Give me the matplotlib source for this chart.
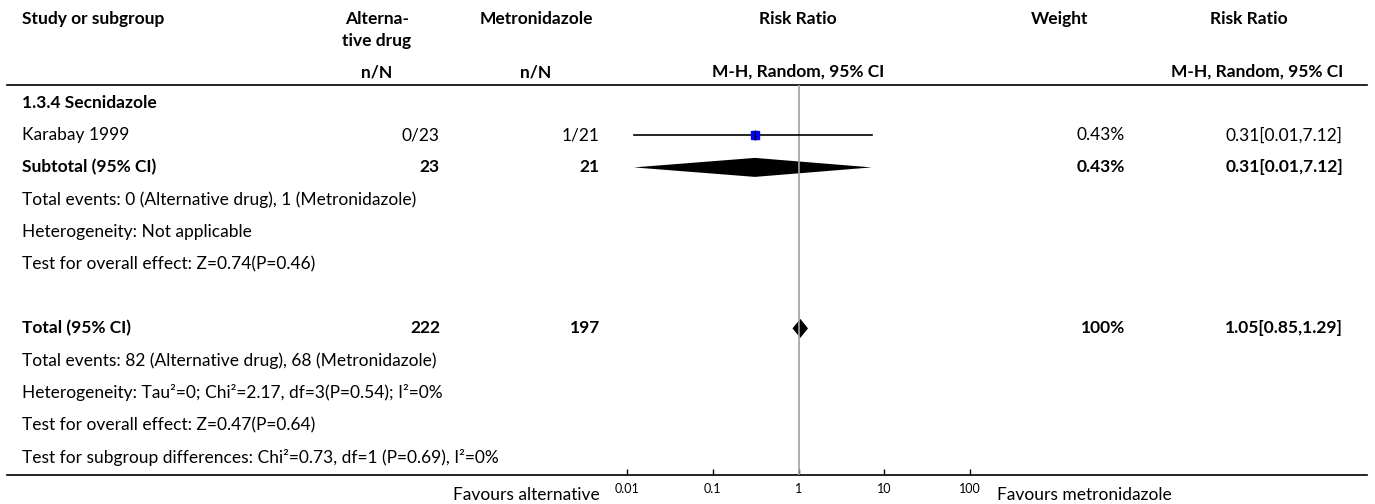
import numpy as np
import matplotlib.pyplot as plt
from matplotlib.patches import Polygon

plt.rcParams['font.family'] = ['Lato', 'DejaVu Sans']

# Study level data
studies = ['Karabay 1999']
alt_events = [0]
alt_total = [23]
met_events = [1]
met_total = [21]
study_weight = ['0.43%']
study_rr = [0.31]
study_lo = [0.012]
study_hi = [7.12]

# Subtotal 1.3.4 Secnidazole
sub_label = '1.3.4 Secnidazole'
sub_n = [23, 21]
sub_weight = '0.43%'
sub_rr, sub_lo, sub_hi = 0.31, 0.012, 7.12
sub_notes = ['Total events: 0 (Alternative drug), 1 (Metronidazole)',
             'Heterogeneity: Not applicable',
             'Test for overall effect: Z=0.74(P=0.46)']

# Overall total
tot_n = [222, 197]
tot_weight = '100%'
tot_rr, tot_lo, tot_hi = 1.05, 0.85, 1.29
tot_notes = ['Total events: 82 (Alternative drug), 68 (Metronidazole)',
             'Heterogeneity: Tau\u00b2=0; Chi\u00b2=2.17, df=3(P=0.54); I\u00b2=0%',
             'Test for overall effect: Z=0.47(P=0.64)',
             'Test for subgroup differences: Chi\u00b2=0.73, df=1 (P=0.69), I\u00b2=0%']

ticks = [0.01, 0.1, 1, 10, 100]
tick_labels = ['0.01', '0.1', '1', '10', '100']

W, H = 1375, 504
fig = plt.figure(figsize=(W / 100, H / 100), dpi=100)
ax = fig.add_axes([0, 0, 1, 1])
ax.set_xlim(0, W)
ax.set_ylim(H, 0)
ax.axis('off')

fs = 12.5
x_left = 22
x_alt = 440
x_met = 600
x_wt = 1125
x_rr = 1343

def fmt_ci(r, l, h):
    return f'{r:.2f}[{l:.2f},{h:.2f}]'

# header
hb = dict(fontsize=fs, fontweight='bold', va='center')
ax.text(x_left, 19, 'Study or subgroup', ha='left', **hb)
ax.text(377, 19, 'Alterna-', ha='center', **hb)
ax.text(377, 41, 'tive drug', ha='center', **hb)
ax.text(536, 19, 'Metronidazole', ha='center', **hb)
ax.text(377, 72, 'n/N', ha='center', **hb)
ax.text(536, 72, 'n/N', ha='center', **hb)
ax.text(798, 19, 'Risk Ratio', ha='center', **hb)
ax.text(798, 72, 'M-H, Random, 95% CI', ha='center', **hb)
ax.text(1060, 19, 'Weight', ha='center', **hb)
ax.text(1249, 19, 'Risk Ratio', ha='center', **hb)
ax.text(x_rr, 72, 'M-H, Random, 95% CI', ha='right', **hb)
ax.plot([7, 1367], [85, 85], color='black', lw=1.2)

# rows
step = 32.2
y0 = 103
rows_y = [y0 + step * i for i in range(12)]
nb = dict(fontsize=fs, va='center')
ax.text(x_left, rows_y[0], sub_label, ha='left', **hb)
for i, s in enumerate(studies):
    y = rows_y[1 + i]
    ax.text(x_left, y, s, ha='left', **nb)
    ax.text(x_alt, y, f'{alt_events[i]}/{alt_total[i]}', ha='right', **nb)
    ax.text(x_met, y, f'{met_events[i]}/{met_total[i]}', ha='right', **nb)
    ax.text(x_wt, y, study_weight[i], ha='right', **nb)
    ax.text(x_rr, y, fmt_ci(study_rr[i], study_lo[i], study_hi[i]), ha='right', **nb)

y_sub = rows_y[2]
ax.text(x_left, y_sub, 'Subtotal (95% CI)', ha='left', **hb)
ax.text(x_alt, y_sub, str(sub_n[0]), ha='right', **hb)
ax.text(x_met, y_sub, str(sub_n[1]), ha='right', **hb)
ax.text(x_wt, y_sub, sub_weight, ha='right', **hb)
ax.text(x_rr, y_sub, fmt_ci(sub_rr, sub_lo, sub_hi), ha='right', **hb)
for j, t in enumerate(sub_notes):
    ax.text(x_left, rows_y[3 + j], t, ha='left', **nb)

y_tot = rows_y[7]
ax.text(x_left, y_tot, 'Total (95% CI)', ha='left', **hb)
ax.text(x_alt, y_tot, str(tot_n[0]), ha='right', **hb)
ax.text(x_met, y_tot, str(tot_n[1]), ha='right', **hb)
ax.text(x_wt, y_tot, tot_weight, ha='right', **hb)
ax.text(x_rr, y_tot, fmt_ci(tot_rr, tot_lo, tot_hi), ha='right', **hb)
for j, t in enumerate(tot_notes):
    ax.text(x_left, rows_y[8 + j], t, ha='left', **nb)

# bottom line and favours labels
ax.plot([7, 1367], [475, 475], color='black', lw=1.2)
ax.text(600, 495, 'Favours alternative', ha='right', va='center', fontsize=fs)
ax.text(997, 495, 'Favours metronidazole', ha='left', va='center', fontsize=fs)

# forest plot panel (log scale)
fx = fig.add_axes([627 / W, (H - 475) / H, (970 - 627) / W, (475 - 85) / H])
fx.set_xscale('log')
fx.set_xlim(0.01, 100)
fx.set_ylim(475, 85)
fx.patch.set_alpha(0)
for sp in fx.spines.values():
    sp.set_visible(False)
fx.set_yticks([])
fx.set_xticks(ticks)
fx.set_xticklabels(tick_labels, fontsize=9)
fx.minorticks_off()
fx.tick_params(axis='x', direction='in', length=4, width=1, pad=6)
fx.axvline(1, color='#a0a0a0', lw=1.2)

# study
for i in range(len(studies)):
    y = rows_y[1 + i]
    fx.plot([study_lo[i], study_hi[i]], [y, y], color='black', lw=1.2)
    fx.plot(study_rr[i], y, marker='s', color='#0000ff', markersize=5.5, mec='#0000ff')
    fx.plot(study_rr[i], y, marker='|', color='black', markersize=7, mew=1)

# diamonds
def diamond(r, l, h, y, hh):
    pts = [(l, y), (r, y - hh), (h, y), (r, y + hh)]
    fx.add_patch(Polygon(pts, closed=True, color='black', lw=0))

diamond(sub_rr, sub_lo, sub_hi, y_sub, 9.5)
diamond(tot_rr, tot_lo, tot_hi, y_tot, 9.5)

plt.savefig('out.png', dpi=100)
